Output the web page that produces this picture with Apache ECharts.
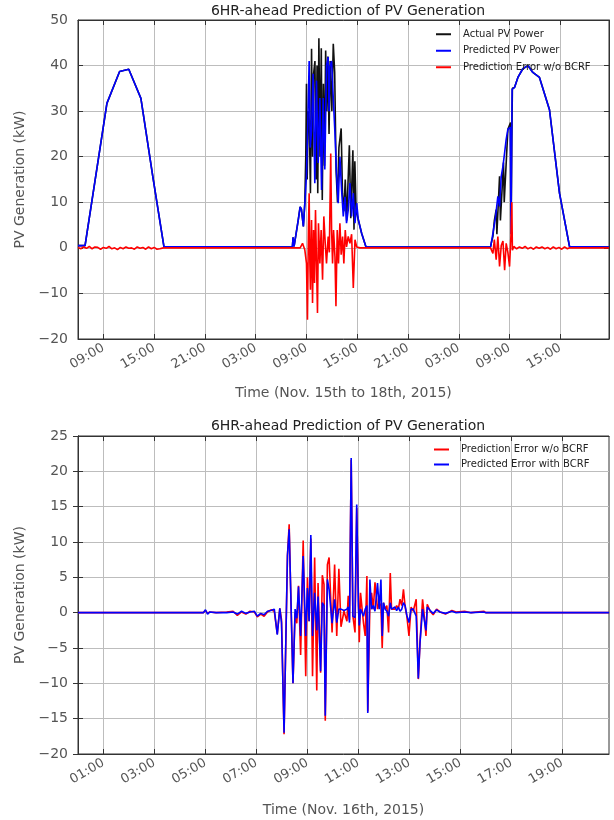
<!DOCTYPE html>
<html>
<head>
<meta charset="utf-8">
<script src="https://cdn.jsdelivr.net/npm/echarts@6/dist/echarts.min.js"></script>
<style>
  html, body { margin: 0; background: #fff; }
  #chart { width: 614px; height: 820px; }
</style>
</head>
<body>
<div id="chart"></div>
<script>
// ---- top chart: Nov 15th to 17th (time = 'DD HH:MM') ----
const predTimes = ['15 06:00','15 06:50','15 09:25','15 10:55','15 12:00','15 13:26','15 14:51','15 16:09','16 07:20',
  '16 07:25','16 07:32','16 07:40','16 08:01','16 08:15','16 08:24','16 08:38','16 08:50','16 09:00','16 09:10','16 09:19',
  '16 09:27','16 09:36','16 09:47','16 09:59','16 10:11','16 10:23','16 10:35','16 10:47','16 10:58','16 11:10','16 11:22',
  '16 11:34','16 11:40','16 11:46','16 11:58','16 12:10','16 12:21','16 12:33','16 12:45','16 12:57','16 13:09','16 13:21',
  '16 13:33','16 13:44','16 13:56','16 14:08','16 14:20','16 14:32','16 14:44','16 14:56','16 15:08','16 15:31','16 16:02',
  '17 06:45','17 06:50','17 07:02','17 07:21','17 07:37','17 07:49','17 08:01','17 08:13','17 08:25','17 08:36','17 08:48',
  '17 09:05','17 09:10','17 09:18','17 09:35','17 09:59','17 10:34','17 11:10','17 11:45','17 12:32','17 13:43','17 14:54',
  '17 16:05','17 20:45'];
const predPower = [0.5,0.5,31.7,38.7,39.2,32.8,15.5,0.3,0.2,
  2.3,0.3,0.5,6.0,9.0,8.5,4.7,10.5,16.0,28,41.0,
  22,25.7,38.2,14.2,36.7,18.6,32.9,12.7,32.9,17.2,40.0,
  41.9,30,39.7,41.0,32.9,25.7,16.3,9.8,20.0,12.7,6.9,
  11.2,5.4,8.3,14.2,6.9,12.0,5.4,9.8,6.1,3.2,0.2,
  0.2,1.0,3.2,6.9,11.3,9.1,15.7,17.9,20.9,23.8,26.0,
  26.5,3.0,34.8,35.2,37.4,39.3,40.0,38.5,37.4,30.3,12.0,
  0.3,0.2];

const actualTimes = ['15 06:00','15 06:50','15 09:25','15 10:55','15 12:00','15 13:26','15 14:51','15 16:09','16 07:20',
  '16 07:25','16 07:32','16 08:01','16 08:15','16 08:24','16 08:38','16 08:48','16 08:55','16 09:00','16 09:05','16 09:12',
  '16 09:20','16 09:28','16 09:36','16 09:43','16 09:50','16 10:00','16 10:08','16 10:15','16 10:20','16 10:28','16 10:36',
  '16 10:45','16 10:52','16 11:00','16 11:08','16 11:16','16 11:24','16 11:32','16 11:40','16 11:48','16 12:00','16 12:10',
  '16 12:20','16 12:30','16 12:40','16 12:50','16 13:06','16 13:15','16 13:25','16 13:35','16 13:45','16 14:04','16 14:14',
  '16 14:29','16 14:37','16 14:43','16 14:52','16 15:08','16 15:31','16 16:02',
  '17 06:45','17 06:50','17 07:02','17 07:12','17 07:25','17 07:30','17 07:49','17 07:55','17 08:17','17 08:22','17 08:48',
  '17 09:07','17 09:12','17 09:16','17 09:20','17 09:35','17 09:59','17 10:34','17 11:10','17 11:45','17 12:32','17 13:43',
  '17 14:54','17 16:05','17 20:45'];
const actualPower = [0.5,0.5,31.7,38.7,39.2,32.8,15.5,0.3,0.2,
  2.3,0.3,6.0,9.0,8.5,4.7,9.8,20,36.0,15,30,
  28,12,43.7,20,38,41,15,40,12,46.0,20,
  43.8,10.5,36,18,43.3,30,42,25,41,30,44.8,
  38.5,17,10,22,26.2,12,8,15,6,22.5,6.5,
  21.4,4,19,8,6.1,3.2,0.2,
  0.2,1.0,2.5,6,8.4,3,15.7,6,18.7,10,26,
  27.5,7,24,35,35.2,37.4,39.3,40.0,38.5,37.4,30.3,
  12.0,0.3,0.2];

const errTimes = ['15 06:00','15 06:20','15 06:40','15 07:00','15 07:20','15 07:40','15 08:00','15 08:20','15 08:40','15 09:00',
  '15 09:20','15 09:40','15 10:00','15 10:20','15 10:40','15 11:00','15 11:20','15 11:40','15 12:00','15 12:20','15 12:40',
  '15 13:00','15 13:20','15 13:40','15 14:00','15 14:20','15 14:40','15 15:00','15 15:20','15 15:40','15 16:05',
  '16 08:15','16 08:17','16 08:32','16 08:48','16 09:00','16 09:07','16 09:14','16 09:19','16 09:24','16 09:28','16 09:36',
  '16 09:43','16 09:50','16 09:57','16 10:04','16 10:11','16 10:18','16 10:25','16 10:35','16 10:44','16 10:54','16 11:03',
  '16 11:13','16 11:22','16 11:34','16 11:42','16 11:52','16 11:58','16 12:05','16 12:12','16 12:22','16 12:29','16 12:38',
  '16 12:47','16 12:57','16 13:06','16 13:16','16 13:25','16 13:35','16 13:44','16 13:56','16 14:08','16 14:20','16 14:32',
  '16 14:44','16 14:56','16 15:10','16 15:19','16 22:33','16 22:35','16 22:38',
  '17 06:45','17 06:55','17 07:02','17 07:12','17 07:25','17 07:37','17 07:49','17 08:01','17 08:13','17 08:25','17 08:36',
  '17 08:48','17 09:00','17 09:10','17 09:16','17 09:20','17 09:30','17 09:50','17 10:10','17 10:30','17 10:50','17 11:10',
  '17 11:30','17 11:50','17 12:10','17 12:30','17 12:50','17 13:10','17 13:30','17 13:50','17 14:10','17 14:30','17 14:50',
  '17 15:10','17 15:30','17 15:50','17 16:05','17 20:45'];
const errValues = [0.1,-0.2,0.2,-0.1,0.3,-0.2,0.2,0.1,-0.3,0.1,
  -0.1,0.3,-0.2,0.0,-0.4,0.1,-0.2,0.2,-0.1,0.0,-0.3,
  0.2,-0.1,0.1,-0.3,0.2,-0.2,0.1,-0.3,-0.2,0.0,
  0.0,-0.4,1.0,-0.4,-3.4,-15.8,4.7,12.0,-3.4,-9.2,6.1,
  -12.1,3.9,-7.7,8.3,-3.4,-14.3,5.4,-3.4,3.9,-7.0,6.9,
  1.0,-3.4,2.5,-1.0,20.7,3.9,-3.4,3.9,-2.0,-12.8,3.9,
  -3.4,5.4,-1.5,2.5,-3.4,3.9,0.2,2.5,1.0,3.0,-8.8,
  1.8,0.2,0.3,0.0,0.0,0.4,0.0,
  0.0,0.3,-1.2,1.8,-2.6,2.5,-4.1,0.5,1.5,-4.9,1.0,
  -1.0,-4.1,3.0,10.0,-0.5,0.3,-0.2,0.2,-0.1,0.3,-0.2,
  0.1,-0.3,0.2,-0.1,0.2,-0.2,0.1,-0.3,0.2,-0.2,0.1,
  -0.3,0.2,-0.2,0.0,0.0];

// tick hours since Nov 15 00:00: 09:00, 15:00, 21:00, 03:00, ...
const topTicks = [9, 15, 21, 27, 33, 39, 45, 51, 57, 63];

// ---- bottom chart: Nov 16th (time = 'HH:MM') ----
const dayTimes = ['00:00','04:55','05:00','05:05','05:10','05:25','05:50','06:05','06:15','06:25','06:35','06:45','06:55',
  '07:02','07:10','07:18','07:26','07:34','07:42','07:45','07:49','07:55','07:59','08:05','08:13','08:17','08:22','08:26',
  '08:31','08:35','08:39','08:44','08:50','08:56','09:00','09:04','09:08','09:12','09:17','09:22','09:25','09:31','09:35',
  '09:39','09:42','09:47','09:51','09:58','10:04','10:09','10:14','10:19','10:26','10:33','10:36','10:39','10:43','10:47',
  '10:52','10:56','11:00','11:02','11:05','11:12','11:16','11:20','11:22','11:27','11:31','11:35','11:39','11:45','11:49',
  '11:53','11:56','11:59','12:03','12:07','12:11','12:15','12:18','12:22','12:26','12:30','12:34','12:38','12:42','12:46',
  '12:50','12:54','12:59','13:04','13:09','13:16','13:21','13:25','13:31','13:34','13:39','13:42','13:49','13:56','14:04',
  '14:12','14:25','14:40','14:50','15:10','15:25','15:55','16:00','20:50'];
const errNoBcrf = [0,0,0.3,-0.1,0.1,0,0.1,0.2,-0.4,0.1,-0.2,0.2,0.1,
  -0.6,-0.2,-0.5,0.1,0.4,0.2,0.3,-3.0,0.6,-1.0,-17.2,8.0,12.5,-0.5,-10,
  0.0,-1.5,3.8,-6.0,10.2,-9.0,5.0,-1.2,10.5,-9.0,7.8,-11.0,4.2,-8.5,5.3,
  4.0,-15.3,6.8,7.8,-2.8,6.8,-3.3,6.2,-2.0,0.2,-1.2,2.4,-1.0,21.6,-0.5,
  -2.8,14.8,2.4,-4.2,2.8,-1.5,-3.3,5.2,-14.0,1.0,2.8,0.5,4.3,0.5,1.4,
  1.0,-5.0,1.4,0.5,1.0,-2.8,5.6,0.5,0.7,0.5,1.0,0.5,1.9,1.0,3.3,
  0.8,-0.5,-3.3,0.8,0.2,1.9,-9.4,-4.2,1.9,0.2,-3.3,1.2,0.2,-0.3,0.5,
  0.1,-0.2,0.3,0.1,0.2,0,0.2,0,0];
const errBcrf = [0,0,0.4,-0.2,0.1,0,0.0,0.1,-0.2,0.2,-0.1,0.1,0.2,
  -0.5,-0.1,-0.3,0.2,0.3,0.5,0.3,-3.1,0.6,-1.4,-17.0,8.1,11.8,0.0,-10,
  0.5,-0.8,3.7,-3.3,8.0,-3.3,3.5,-1.2,11.0,-3.3,2.8,-2.5,2.3,-8.3,1.4,
  1.0,-14.6,4.7,3.3,-1.5,1.9,-1.4,0.5,0.5,0.3,0.5,0.8,-1.4,21.9,-0.5,
  -0.7,15.3,1.0,-1.8,0.5,-0.5,0.5,1.0,-14.2,4.7,0.5,1.0,0.2,4.2,0.5,
  4.7,-3.3,1.4,0.5,0.2,-0.5,1.4,0.5,0.3,0.8,0.3,0.8,0.2,0.5,1.4,
  1.0,-0.4,-1.4,0.5,0.5,-0.5,-9.3,-4.2,0.5,0.3,-2.5,0.8,0.3,-0.1,0.4,
  0.1,-0.1,0.2,0.0,0.1,0,0.1,0,0];

const bottomTicks = [1, 3, 5, 7, 9, 11, 13, 15, 17, 19];

// hours since Nov 15 00:00 / since midnight
const topHours = s => (parseInt(s.slice(0, 2)) - 15) * 24 + parseInt(s.slice(3, 5)) + parseInt(s.slice(6, 8)) / 60;
const dayHours = s => parseInt(s.slice(0, 2)) + parseInt(s.slice(3, 5)) / 60;
const pairs = (times, vals, f) => times.map((t, i) => [f(t), vals[i]]);

const pad = n => (n < 10 ? '0' : '') + n;
const hourLabel = v => pad(((Math.round(v) % 24) + 24) % 24) + ':00';
const minus = v => String(v).replace('-', '\u2212');

const FONT = 'DejaVu Sans';
const frame = '#333';
const gridColor = '#bdbdbd';

function xMain(idx, min, max, ticks, name, gap) {
  return {
    type: 'value', gridIndex: idx, min: min, max: max, position: 'bottom',
    name: name, nameLocation: 'middle', nameGap: gap,
    nameTextStyle: { color: '#555', fontSize: 14, fontFamily: FONT },
    axisLine: { show: true, onZero: false, lineStyle: { color: frame } },
    axisTick: { show: true, inside: true, length: 5, customValues: ticks, lineStyle: { color: frame } },
    axisLabel: { customValues: ticks, formatter: hourLabel, rotate: 30, margin: 8, color: '#555', fontSize: 13, fontFamily: FONT },
    splitLine: { show: true, lineStyle: { color: gridColor, width: 1 } }
  };
}
function xMirror(idx, min, max, ticks) {
  return {
    type: 'value', gridIndex: idx, min: min, max: max, position: 'top',
    axisLine: { show: true, onZero: false, lineStyle: { color: frame } },
    axisTick: { show: true, inside: true, length: 5, customValues: ticks, lineStyle: { color: frame } },
    axisLabel: { show: false }, splitLine: { show: false }
  };
}
function yMain(idx, min, max, interval) {
  return {
    type: 'value', gridIndex: idx, min: min, max: max, interval: interval, position: 'left',
    name: 'PV Generation (kW)', nameLocation: 'middle', nameGap: 47,
    nameTextStyle: { color: '#555', fontSize: 14, fontFamily: FONT },
    axisLine: { show: true, lineStyle: { color: frame } },
    axisTick: { show: true, inside: true, length: 5, lineStyle: { color: frame } },
    axisLabel: { formatter: minus, margin: 10, color: '#555', fontSize: 14, fontFamily: FONT },
    splitLine: { show: true, lineStyle: { color: gridColor, width: 1 } }
  };
}
function yMirror(idx, min, max, interval) {
  return {
    type: 'value', gridIndex: idx, min: min, max: max, interval: interval, position: 'right',
    axisLine: { show: true, lineStyle: { color: frame } },
    axisTick: { show: true, inside: true, length: 5, lineStyle: { color: frame } },
    axisLabel: { show: false }, splitLine: { show: false }
  };
}
function line(name, data, color, xi, yi) {
  return {
    name: name, type: 'line', data: data, xAxisIndex: xi, yAxisIndex: yi,
    showSymbol: false, symbol: 'none', lineStyle: { color: color, width: 1.6 }, itemStyle: { color: color }
  };
}
const legendBase = {
  orient: 'vertical', icon: 'rect', itemWidth: 15, itemHeight: 2, itemGap: 0, padding: 0,
  textStyle: { fontSize: 10, fontFamily: FONT, color: '#222', padding: [0, 0, 0, 7] }
};

const chart = echarts.init(document.getElementById('chart'), null, { renderer: 'canvas' });
chart.setOption({
  animation: false,
  backgroundColor: '#fff',
  title: [
    { text: '6HR-ahead Prediction of PV Generation', left: 343, top: -1, textAlign: 'center',
      textStyle: { fontSize: 14, fontWeight: 'normal', color: '#222', fontFamily: FONT } },
    { text: '6HR-ahead Prediction of PV Generation', left: 343, top: 414, textAlign: 'center',
      textStyle: { fontSize: 14, fontWeight: 'normal', color: '#222', fontFamily: FONT } }
  ],
  grid: [
    { left: 78, right: 5, top: 20, height: 319, show: true, borderColor: frame, borderWidth: 1 },
    { left: 78, right: 5, top: 436, height: 318, show: true, borderColor: frame, borderWidth: 1 }
  ],
  legend: [
    Object.assign({}, legendBase, { left: 436, top: 26, textStyle: Object.assign({}, legendBase.textStyle, { lineHeight: 16.5 }),
      data: ['Actual PV Power', 'Predicted PV Power', 'Prediction Error w/o BCRF'] }),
    Object.assign({}, legendBase, { left: 434, top: 442, textStyle: Object.assign({}, legendBase.textStyle, { lineHeight: 15 }),
      data: ['Prediction Error w/o BCRF', 'Predicted Error with BCRF'] })
  ],
  xAxis: [
    xMain(0, 6, 68.75, topTicks, 'Time (Nov. 15th to 18th, 2015)', 47),
    xMirror(0, 6, 68.75, topTicks),
    xMain(1, 0, 20.83, bottomTicks, 'Time (Nov. 16th, 2015)', 49),
    xMirror(1, 0, 20.83, bottomTicks)
  ],
  yAxis: [
    yMain(0, -20, 50, 10),
    yMirror(0, -20, 50, 10),
    yMain(1, -20, 25, 5),
    yMirror(1, -20, 25, 5)
  ],
  series: [
    line('Actual PV Power', pairs(actualTimes, actualPower, topHours), '#111', 0, 0),
    line('Predicted PV Power', pairs(predTimes, predPower, topHours), '#0000ff', 0, 0),
    line('Prediction Error w/o BCRF', pairs(errTimes, errValues, topHours), '#ff0000', 0, 0),
    line('Prediction Error w/o BCRF', pairs(dayTimes, errNoBcrf, dayHours), '#ff0000', 2, 2),
    line('Predicted Error with BCRF', pairs(dayTimes, errBcrf, dayHours), '#0000ff', 2, 2)
  ]
});
</script>
</body>
</html>
